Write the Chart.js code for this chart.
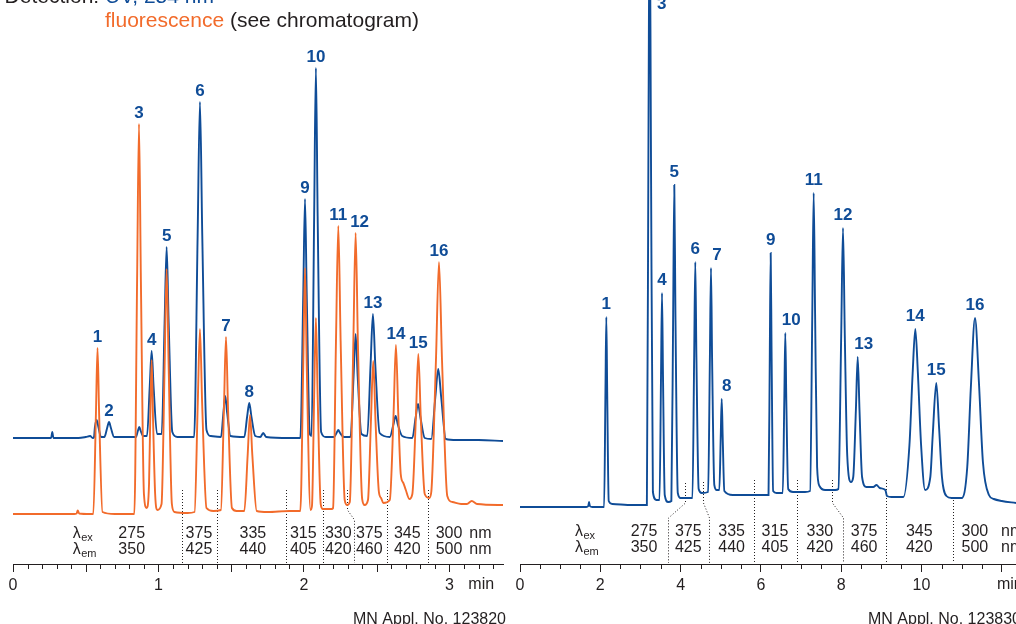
<!DOCTYPE html>
<html>
<head>
<meta charset="utf-8">
<title>HPLC chromatograms</title>
<script src="https://cdn.jsdelivr.net/npm/chart.js@4.4.1/dist/chart.umd.min.js"></script>
<style>
  body { margin: 0; background: #fff; width: 1016px; height: 624px; overflow: hidden; position: relative; }
  canvas { position: absolute; top: 0; }
  #left { left: 0; }
  #right { left: 510px; }
</style>
</head>
<body>
<canvas id="left" width="510" height="624" style="width:510px;height:624px"></canvas>
<canvas id="right" width="506" height="624" style="width:506px;height:624px"></canvas>
<script>
const INK = '#231f20';
const BLUE = '#0f4c97';
const ORANGE = '#f26b2b';
const FONT = "'Liberation Sans', Arial, Helvetica, sans-serif";

// left run: [time (min), signal] -- UV 254 nm
const uvLeft = [
  [0.000, 0], [0.150, 0], [0.262, 0], [0.270, 6], [0.278, 0], [0.450, 0], [0.500, 1], [0.530, 2], [0.548, 0],
  [0.557, 1], [0.563, 11], [0.575, 18], [0.587, 11], [0.605, 1],
  [0.628, 1], [0.647, 10], [0.660, 16], [0.673, 10], [0.695, 1],
  [0.800, 1], [0.845, 1], [0.858, 7], [0.868, 11], [0.878, 7], [0.895, 2],
  [0.921, 2], [0.940, 52], [0.953, 87], [0.966, 52], [0.990, 4],
  [1.022, 4], [1.042, 115], [1.056, 191], [1.070, 115], [1.095, 6], [1.130, 1],
  [1.245, 1], [1.269, 202], [1.285, 336], [1.301, 202], [1.330, 8], [1.360, 2],
  [1.430, 1], [1.446, 25], [1.459, 42], [1.472, 25], [1.495, 2],
  [1.590, 1], [1.609, 21], [1.624, 35], [1.639, 21], [1.665, 2],
  [1.700, 1], [1.720, 5], [1.740, 1], [1.900, 0],
  [1.975, 0], [1.995, 143], [2.007, 239], [2.019, 143], [2.040, 4],
  [2.052, 2], [2.070, 222], [2.082, 370], [2.094, 222], [2.118, 6], [2.150, 1],
  [2.205, 1], [2.224, 5], [2.236, 8], [2.248, 5], [2.275, 1],
  [2.320, 1], [2.341, 62], [2.355, 104], [2.369, 62], [2.395, 4],
  [2.435, 2], [2.458, 74], [2.474, 124], [2.490, 74], [2.520, 5],
  [2.590, 1], [2.614, 13], [2.630, 22], [2.646, 13], [2.675, 2],
  [2.745, 0], [2.767, 20], [2.784, 34], [2.801, 20], [2.830, 0],
  [2.875, -1], [2.903, 41], [2.923, 69], [2.943, 41], [2.975, -1],
  [3.050, -2], [3.200, -2], [3.368, -3]
];

// left run: fluorescence (programmed wavelengths)
const flLeft = [
  [0.000, 0], [0.420, 0], [0.437, 0.5], [0.445, 3.5], [0.455, 0.5], [0.530, 0],
  [0.552, 0], [0.570, 100], [0.581, 166], [0.592, 100], [0.615, 2],
  [0.700, 0], [0.834, 0], [0.853, 234], [0.866, 390], [0.879, 234], [0.900, 20], [0.919, 6],
  [0.935, 30], [0.943, 92], [0.953, 154], [0.963, 92], [0.977, 20], [0.992, 4],
  [1.021, 10], [1.042, 147], [1.056, 245], [1.070, 147], [1.092, 10], [1.110, 2], [1.200, 1],
  [1.248, 2], [1.270, 111], [1.285, 185], [1.300, 111], [1.330, 6], [1.377, 3],
  [1.429, 4], [1.450, 106], [1.464, 177], [1.478, 106], [1.505, 6], [1.537, 3],
  [1.590, 3], [1.613, 59], [1.629, 99], [1.645, 59], [1.675, 3], [1.750, 2], [1.900, 3],
  [1.975, 3], [1.995, 148], [2.007, 246], [2.019, 148], [2.045, 4],
  [2.055, 8], [2.070, 118], [2.082, 196], [2.094, 118], [2.115, 10], [2.130, 5], [2.190, 5],
  [2.200, 6], [2.220, 173], [2.236, 288], [2.252, 173], [2.280, 14], [2.297, 9],
  [2.315, 12], [2.339, 169], [2.355, 281], [2.371, 169], [2.400, 15], [2.417, 9],
  [2.440, 14], [2.460, 92], [2.476, 153], [2.492, 92], [2.515, 22], [2.530, 16], [2.545, 11],
  [2.590, 14], [2.616, 101], [2.632, 169], [2.648, 101], [2.665, 40], [2.683, 31], [2.700, 24], [2.724, 15],
  [2.745, 20], [2.769, 96], [2.786, 160], [2.803, 96], [2.830, 20], [2.861, 16],
  [2.875, 22], [2.907, 153], [2.928, 252], [2.949, 153], [2.985, 18], [3.020, 12], [3.080, 10],
  [3.120, 10], [3.153, 13], [3.190, 10], [3.368, 9]
];

// right run: UV 254 nm
const uvRight = [
  [0.000, 0], [1.650, 0], [1.700, 1], [1.720, 5], [1.740, 1], [1.800, 0],
  [2.095, 0], [2.128, 115], [2.150, 190], [2.172, 115], [2.210, 6], [2.300, 3], [2.800, 2],
  [3.160, 2], [3.200, 372], [3.230, 620], [3.260, 372], [3.310, 15], [3.400, 7],
  [3.475, 7], [3.512, 130], [3.537, 214], [3.562, 130], [3.605, 12], [3.690, 5],
  [3.770, 6], [3.815, 195], [3.843, 322], [3.871, 195], [3.930, 14], [4.000, 9], [4.200, 9],
  [4.295, 9], [4.338, 150], [4.366, 245], [4.394, 150], [4.450, 18], [4.526, 14],
  [4.685, 15], [4.729, 147], [4.757, 239], [4.785, 147], [4.840, 22], [4.900, 17],
  [4.965, 17], [4.999, 69], [5.024, 108], [5.049, 69], [5.090, 16], [5.300, 12],
  [5.800, 12], [6.190, 12], [6.222, 155], [6.244, 254], [6.266, 155], [6.305, 16], [6.390, 14],
  [6.545, 14], [6.583, 107], [6.608, 174], [6.633, 107], [6.680, 18], [6.800, 15], [7.100, 15],
  [7.225, 16], [7.280, 193], [7.315, 314], [7.350, 193], [7.400, 40], [7.460, 21], [7.600, 17], [7.850, 17],
  [7.930, 18], [8.000, 171], [8.045, 279], [8.090, 171], [8.150, 52], [8.244, 25],
  [8.300, 30], [8.366, 97], [8.411, 150], [8.456, 97], [8.520, 30], [8.630, 20],
  [8.800, 20], [8.880, 22], [8.960, 19], [9.100, 17], [9.140, 11], [9.250, 10],
  [9.550, 10], [9.700, 62], [9.780, 134], [9.846, 178], [9.910, 134], [9.990, 62], [10.090, 17],
  [10.220, 30], [10.280, 72], [10.369, 124], [10.440, 78], [10.510, 30], [10.620, 11], [10.750, 9],
  [11.000, 9], [11.140, 40], [11.230, 120], [11.333, 189], [11.430, 125], [11.530, 45], [11.680, 12],
  [11.800, 8], [12.000, 6], [12.354, 4]
];

// peak numbering and retention times
const leftPeakNos = [1, 2, 3, 4, 5, 6, 7, 8, 9, 10, 11, 12, 13, 14, 15, 16];
const leftPeakTimes = [0.581, 0.660, 0.866, 0.953, 1.056, 1.285, 1.464, 1.624, 2.007, 2.082, 2.236, 2.355, 2.474, 2.632, 2.786, 2.928];
const rightPeakNos = [1, 3, 4, 5, 6, 7, 8, 9, 10, 11, 12, 13, 14, 15, 16];
const rightPeakTimes = [2.150, 3.230, 3.537, 3.843, 4.366, 4.757, 5.024, 6.244, 6.608, 7.315, 8.045, 8.411, 9.846, 10.369, 11.333];

// fluorescence wavelength program (nm)
const lambdaEx = ['275', '375', '335', '315', '330', '375', '345', '300'];
const lambdaEm = ['350', '425', '440', '405', '420', '460', '420', '500'];
const leftColTimes = [0.816, 1.278, 1.649, 1.995, 2.236, 2.449, 2.710, 2.997];
const rightColTimes = [3.088, 4.190, 5.270, 6.350, 7.470, 8.570, 9.945, 11.330];

// switching points: upper/lower time of each dotted marker
const leftSwitchUpper = [1.162, 1.402, 1.876, 2.133, 2.293, 2.572, 2.854];
const leftSwitchLower = [1.162, 1.402, 1.876, 2.133, 2.346, 2.572, 2.854];
const rightSwitchUpper = [4.100, 4.560, 5.840, 6.910, 7.760, 9.120, 10.780];
const rightSwitchLower = [3.680, 4.710, 5.840, 6.910, 8.050, 9.120, 10.780];

// UV trace sits above the fluorescence trace
const UV_OFFSET = 76;

const toPoints = (trace, offset) => trace.map(([t, v]) => ({ x: t, y: v + offset }));

function drawDividers(chart, cfg) {
  const { ctx, scales: { x } } = chart;
  ctx.save();
  ctx.strokeStyle = INK;
  ctx.lineWidth = 1;
  ctx.setLineDash([1, 2]);
  cfg.upper.forEach((tu, i) => {
    const xu = Math.round(x.getPixelForValue(tu)) + 0.5;
    const xl = Math.round(x.getPixelForValue(cfg.lower[i])) + 0.5;
    const top = (cfg.tops && cfg.tops[i]) || cfg.top;
    ctx.beginPath();
    ctx.moveTo(xu, top);
    if (xu !== xl) {
      ctx.lineTo(xu, cfg.kink[0]);
      ctx.lineTo(xl, cfg.kink[1]);
    }
    ctx.lineTo(xl, 563);
    ctx.stroke();
  });
  ctx.restore();
}

function drawMinorTicks(chart, cfg) {
  const { ctx, scales: { x } } = chart;
  const bottom = chart.chartArea.bottom;
  ctx.save();
  ctx.strokeStyle = INK;
  ctx.lineWidth = 1;
  for (let i = 1; i * cfg.step <= x.max; i++) {
    if (i % cfg.skipEvery === 0) continue;
    const len = cfg.longEvery && i % cfg.longEvery === 0 ? 8 : 5;
    const px = Math.round(x.getPixelForValue(i * cfg.step)) + 0.5;
    ctx.beginPath();
    ctx.moveTo(px, bottom);
    ctx.lineTo(px, bottom + len);
    ctx.stroke();
  }
  ctx.font = `16px ${FONT}`;
  ctx.fillStyle = INK;
  ctx.textAlign = 'left';
  ctx.textBaseline = 'middle';
  ctx.fillText('min', x.getPixelForValue(cfg.minAt), bottom + 21);
  ctx.restore();
}

function drawLambda(ctx, sub, px, base) {
  ctx.textAlign = 'left';
  ctx.font = `16px ${FONT}`;
  ctx.fillText('λ', px, base);
  const w = ctx.measureText('λ').width;
  ctx.font = `11px ${FONT}`;
  ctx.fillText(sub, px + w + 0.5, base + 2.5);
}

function drawLambdaTable(chart, cfg) {
  const { ctx, scales: { x } } = chart;
  ctx.save();
  ctx.fillStyle = INK;
  ctx.font = `16px ${FONT}`;
  ctx.textAlign = 'center';
  cfg.cols.forEach((t, i) => {
    const px = x.getPixelForValue(t);
    ctx.fillText(lambdaEx[i], px, cfg.exBase);
    ctx.fillText(lambdaEm[i], px, cfg.emBase);
  });
  ctx.textAlign = 'left';
  ctx.fillText('nm', x.getPixelForValue(cfg.nmAt), cfg.exBase);
  ctx.fillText('nm', x.getPixelForValue(cfg.nmAt), cfg.emBase);
  drawLambda(ctx, 'ex', x.getPixelForValue(cfg.lambdaAt), cfg.exBase);
  drawLambda(ctx, 'em', x.getPixelForValue(cfg.lambdaAt), cfg.emBase);
  ctx.restore();
}

function drawPeakLabels(chart, cfg) {
  const { ctx, scales: { x, y } } = chart;
  ctx.save();
  ctx.font = `bold 17px ${FONT}`;
  ctx.fillStyle = BLUE;
  ctx.textAlign = 'center';
  ctx.textBaseline = 'alphabetic';
  cfg.nos.forEach((no, i) => {
    // label sits over the highest trace at this retention time
    let best = null;
    chart.data.datasets.forEach(ds => ds.data.forEach(p => {
      if (Math.abs(p.x - cfg.times[i]) < 0.007 && (!best || p.y > best.y)) best = p;
    }));
    if (!best) return;
    const px = x.getPixelForValue(best.x) + (cfg.nudge[no] || 0);
    const py = Math.max(y.getPixelForValue(best.y) - cfg.lift, 8.5);
    ctx.fillText(String(no), px, py);
  });
  ctx.restore();
}

function overlay(cfg) {
  return {
    id: 'overlay',
    beforeDatasetsDraw(chart) {
      drawDividers(chart, cfg.dividers);
    },
    afterDatasetsDraw(chart) {
      drawPeakLabels(chart, cfg.labels);
    },
    afterDraw(chart) {
      const ctx = chart.ctx;
      drawMinorTicks(chart, cfg.ticks);
      drawLambdaTable(chart, cfg.table);
      ctx.save();
      ctx.font = `16px ${FONT}`;
      ctx.fillStyle = INK;
      ctx.textAlign = 'left';
      ctx.fillText(cfg.applNo, cfg.applX, 624);
      if (cfg.header) {
        ctx.font = `21px ${FONT}`;
        ctx.textAlign = 'right';
        ctx.fillText('Detection: ', 105, 3);
        ctx.textAlign = 'left';
        ctx.fillStyle = BLUE;
        ctx.fillText('UV, 254 nm', 105, 3);
        ctx.fillStyle = ORANGE;
        ctx.fillText('fluorescence', 105, 26.5);
        const w = ctx.measureText('fluorescence ').width;
        ctx.fillStyle = INK;
        ctx.fillText('(see chromatogram)', 105 + w, 26.5);
      }
      ctx.restore();
    }
  };
}

function makeChart(id, datasets, o) {
  return new Chart(document.getElementById(id), {
    type: 'line',
    data: { datasets },
    options: {
      responsive: false,
      animation: false,
      devicePixelRatio: 1,
      parsing: false,
      layout: { padding: o.padding },
      elements: { point: { radius: 0 }, line: { borderWidth: 1.9, cubicInterpolationMode: 'monotone' } },
      plugins: { legend: { display: false }, tooltip: { enabled: false } },
      scales: {
        x: {
          type: 'linear',
          min: 0,
          max: o.xMax,
          afterFit: s => { s.height = 60; },
          grid: { display: true, drawOnChartArea: false, drawTicks: true, tickLength: 8, color: INK, lineWidth: 1 },
          border: { display: true, color: INK, width: 1 },
          ticks: {
            stepSize: o.step,
            includeBounds: false,
            autoSkip: false,
            maxRotation: 0,
            padding: 4,
            color: INK,
            font: { family: FONT, size: 16 },
            callback: o.tickLabel
          }
        },
        y: { type: 'linear', display: false, min: o.yMin, max: o.yMax }
      }
    },
    plugins: [overlay(o.overlay)]
  });
}

makeChart('left', [
  { label: 'Fluorescence', data: toPoints(flLeft, 0), borderColor: ORANGE, fill: false },
  { label: 'UV 254 nm', data: toPoints(uvLeft, UV_OFFSET), borderColor: BLUE, fill: false }
], {
  padding: { left: 13, right: 7, top: 0, bottom: 0 },
  xMax: 3.368, yMin: -50, yMax: 514, step: 1,
  tickLabel: v => String(v),
  overlay: {
    header: true,
    applNo: 'MN Appl. No. 123820', applX: 353,
    labels: { nos: leftPeakNos, times: leftPeakTimes, nudge: { 12: 4 }, lift: 6.3 },
    ticks: { step: 0.1, skipEvery: 10, longEvery: 5, minAt: 3.13 },
    table: { cols: leftColTimes, exBase: 538, emBase: 554, nmAt: 3.136, lambdaAt: 0.41 },
    dividers: { upper: leftSwitchUpper, lower: leftSwitchLower, top: 490, kink: [510, 520] }
  }
});

makeChart('right', [
  { label: 'UV 254 nm', data: toPoints(uvRight, 0), borderColor: BLUE, fill: false }
], {
  padding: { left: 10, right: 0, top: 0, bottom: 0 },
  xMax: 12.354, yMin: -57, yMax: 507, step: 2,
  tickLabel: v => (v <= 10 ? String(v) : ''),
  overlay: {
    header: false,
    applNo: 'MN Appl. No. 123830', applX: 358,
    labels: { nos: rightPeakNos, times: rightPeakTimes, nudge: { 3: 12, 7: 6, 8: 5, 10: 6, 13: 6 }, lift: 7.6 },
    ticks: { step: 0.5, skipEvery: 4, longEvery: 0, minAt: 11.88 },
    table: { cols: rightColTimes, exBase: 536, emBase: 552, nmAt: 11.98, lambdaAt: 1.37 },
    dividers: {
      upper: rightSwitchUpper, lower: rightSwitchLower, top: 481,
      tops: [483, 482, 480, 480, 480, 480, 497], kink: [503, 518]
    }
  }
});
</script>
</body>
</html>
